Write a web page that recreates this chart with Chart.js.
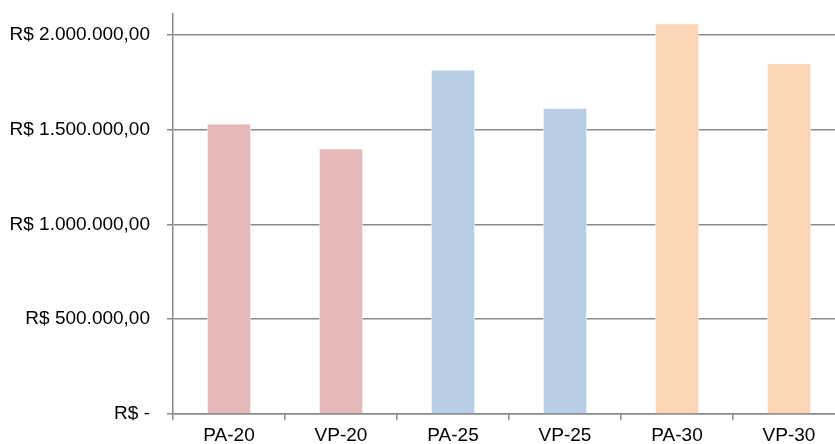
<!DOCTYPE html>
<html>
<head>
<meta charset="utf-8">
<script src="https://cdn.jsdelivr.net/npm/chart.js@4/dist/chart.umd.min.js"></script>
<style>
  body { margin: 0; overflow: hidden; background: #fff; }
  #wrap { position: absolute; left: 0; top: 0; }
</style>
</head>
<body>
<div id="wrap"><canvas id="barChart" width="850" height="444"></canvas></div>
<script>
const categories = ["PA-20", "VP-20", "PA-25", "VP-25", "PA-30", "VP-30"];
const values = [1530000, 1400000, 1816000, 1614000, 2060000, 1850000];
const barColors = ["#E6B9B8", "#E6B9B8", "#B9CDE5", "#B9CDE5", "#FCD5B5", "#FCD5B5"];
const yTicks = [0, 500000, 1000000, 1500000, 2000000];

// formato brasileiro: R$ 1.500.000,00
function formatBRL(v) {
  if (v === 0) return "R$ -";
  const int = Math.round(v).toString().replace(/\B(?=(\d{3})+(?!\d))/g, ".");
  return "R$ " + int + ",00";
}

const gridColor = "#8a8a8a";
const font = { family: "'Liberation Sans', Arial, sans-serif", size: 19 };

const canvas = document.getElementById("barChart");
const chart = new Chart(canvas, {
  type: "bar",
  data: {
    labels: categories,
    datasets: [
      {
        data: values,
        backgroundColor: barColors,
        borderColor: "rgba(255,255,255,0.5)",
        borderWidth: 1,
        barThickness: 44,
      },
    ],
  },
  options: {
    responsive: false,
    animation: false,
    layout: { padding: { top: 14, right: 5, left: 0, bottom: 0 } },
    plugins: {
      legend: { display: false },
      tooltip: { enabled: false },
    },
    scales: {
      x: {
        offset: true,
        grid: {
          offset: true,
          drawOnChartArea: false,
          drawTicks: true,
          tickLength: 6,
          color: gridColor,
          lineWidth: 1.5,
        },
        border: { color: gridColor, width: 1.5 },
        ticks: { color: "#000", font: font, padding: 4, maxRotation: 0 },
        afterFit: (scale) => { scale.height = 30; },
      },
      y: {
        min: 0,
        max: 2110000,
        afterBuildTicks: (axis) => {
          axis.ticks = yTicks.map((v) => ({ value: v }));
        },
        grid: {
          color: gridColor,
          lineWidth: 1.5,
          tickLength: 6,
        },
        border: { color: gridColor, width: 1.5 },
        ticks: {
          color: "#000",
          font: font,
          padding: 17,
          callback: (v) => formatBRL(v),
        },
        afterFit: (scale) => {
          scale.width = 173;
          scale.paddingTop = 0;
          scale.paddingBottom = 0;
        },
      },
    },
  },
});
</script>
</body>
</html>
